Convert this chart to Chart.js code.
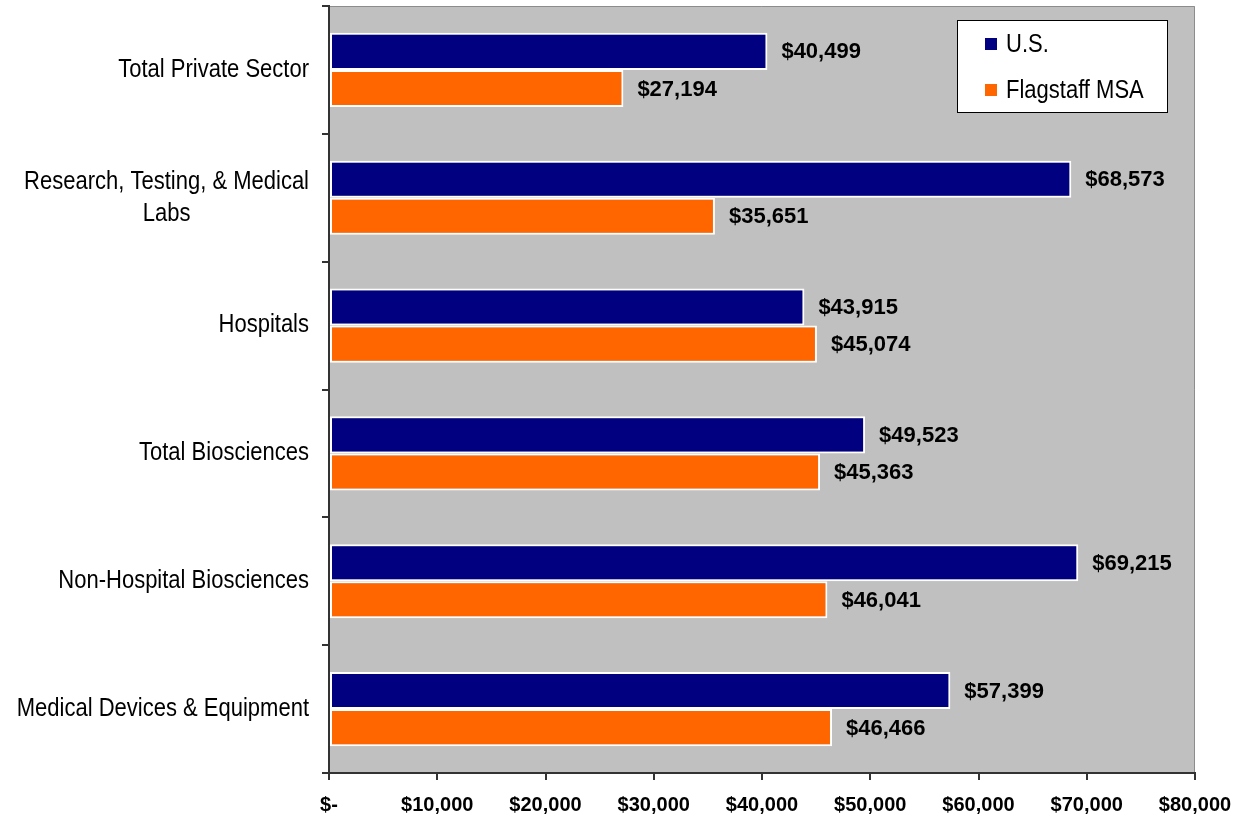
<!DOCTYPE html>
<html>
<head>
<meta charset="utf-8">
<script src="https://cdn.jsdelivr.net/npm/chart.js@4/dist/chart.umd.min.js"></script>
<style>
html,body{margin:0;padding:0;background:#fff;}
#wrap{width:1241px;height:816px;position:relative;}
</style>
</head>
<body>
<div id="wrap"><canvas id="c" width="1241" height="816"></canvas></div>
<script>
const categories = [
  "Total Private Sector",
  ["Research, Testing, & Medical", "Labs"],
  "Hospitals",
  "Total Biosciences",
  "Non-Hospital Biosciences",
  "Medical Devices & Equipment"
];
const seriesNames = ["U.S.", "Flagstaff MSA"];
const usValues = [40499, 68573, 43915, 49523, 69215, 57399];
const flagstaffValues = [27194, 35651, 45074, 45363, 46041, 46466];
const xTicks = [0, 10000, 20000, 30000, 40000, 50000, 60000, 70000, 80000];

const FONT = "'Liberation Sans', Arial, sans-serif";
const SQUEEZE = 0.88;
function money(v){ return v === 0 ? "$-" : "$" + v.toLocaleString("en-US"); }

// draw horizontally condensed text
function narrowText(ctx, text, x, y, align){
  ctx.save();
  ctx.translate(x, y);
  ctx.scale(SQUEEZE, 1);
  ctx.textAlign = align;
  ctx.fillText(text, 0, 0);
  ctx.restore();
}

const plotBg = {
  id: "plotBg",
  beforeDraw(chart){
    const {ctx, chartArea:a} = chart;
    ctx.save();
    ctx.fillStyle = "#C0C0C0";
    ctx.fillRect(a.left, a.top, a.right - a.left, a.bottom - a.top);
    ctx.strokeStyle = "#8c8c8c";
    ctx.lineWidth = 1;
    ctx.beginPath();
    ctx.moveTo(a.left, a.top + 0.5);
    ctx.lineTo(a.right - 0.5, a.top + 0.5);
    ctx.lineTo(a.right - 0.5, a.bottom);
    ctx.stroke();
    ctx.restore();
  }
};

const catLabels = {
  id: "catLabels",
  afterDraw(chart){
    const {ctx} = chart;
    const y = chart.scales.y;
    ctx.save();
    ctx.font = "25px " + FONT;
    ctx.fillStyle = "#000";
    ctx.textBaseline = "middle";
    const lineH = 32;
    chart.data.labels.forEach((lab, i) => {
      const lines = Array.isArray(lab) ? lab : [lab];
      const w = Math.max(...lines.map(l => ctx.measureText(l).width)) * SQUEEZE;
      const cx = y.right - 20 - w / 2;
      const cy = y.getPixelForTick(i);
      const start = cy - (lines.length - 1) * lineH / 2;
      lines.forEach((l, k) => narrowText(ctx, l, cx, start + k * lineH, "center"));
    });
    ctx.restore();
  }
};

const dataLabels = {
  id: "dataLabels",
  afterDatasetsDraw(chart){
    const {ctx} = chart;
    ctx.save();
    ctx.font = "bold 22px " + FONT;
    ctx.fillStyle = "#000";
    ctx.textBaseline = "middle";
    ctx.textAlign = "left";
    chart.data.datasets.forEach((ds, di) => {
      chart.getDatasetMeta(di).data.forEach((bar, i) => {
        ctx.fillText(money(ds.data[i]), bar.x + 14, bar.y + 1);
      });
    });
    ctx.restore();
  }
};

const boxLegend = {
  id: "boxLegend",
  afterDraw(chart){
    const {ctx, chartArea:a} = chart;
    const bx = a.right - 238, by = a.top + 14, bw = 211, bh = 93;
    ctx.save();
    ctx.fillStyle = "#fff";
    ctx.fillRect(bx, by, bw, bh);
    ctx.strokeStyle = "#000";
    ctx.lineWidth = 1;
    ctx.strokeRect(bx + 0.5, by + 0.5, bw - 1, bh - 1);
    ctx.font = "25px " + FONT;
    ctx.textBaseline = "middle";
    chart.data.datasets.forEach((ds, i) => {
      const cy = by + 24 + i * 46;
      ctx.fillStyle = ds.backgroundColor;
      ctx.fillRect(bx + 28, cy - 6, 12, 12);
      ctx.fillStyle = "#000";
      narrowText(ctx, ds.label, bx + 49, cy + 1, "left");
    });
    ctx.restore();
  }
};

new Chart(document.getElementById("c"), {
  type: "bar",
  data: {
    labels: categories,
    datasets: [
      { label: seriesNames[0], data: usValues, backgroundColor: "#000080" },
      { label: seriesNames[1], data: flagstaffValues, backgroundColor: "#FF6600" }
    ]
  },
  options: {
    indexAxis: "y",
    responsive: false,
    animation: false,
    devicePixelRatio: 1,
    layout: { padding: { left: 0, right: 46, top: 6, bottom: 0 } },
    datasets: {
      bar: {
        borderColor: "#ffffff",
        borderWidth: 2,
        borderSkipped: false,
        categoryPercentage: 0.58,
        barPercentage: 1.0
      }
    },
    plugins: {
      legend: { display: false },
      tooltip: { enabled: false },
      title: { display: false }
    },
    scales: {
      x: {
        min: 0,
        max: 80000,
        afterBuildTicks(scale){ scale.ticks = xTicks.map(v => ({ value: v })); },
        afterFit(scale){ scale.height = 43; scale.paddingLeft = 0; scale.paddingRight = 0; },
        grid: { drawOnChartArea: false, drawTicks: true, tickLength: 7, color: "#333", lineWidth: 2 },
        border: { display: true, color: "#333", width: 2 },
        ticks: {
          color: "#000",
          font: { family: FONT, size: 20, weight: "bold" },
          padding: 13,
          maxRotation: 0,
          autoSkip: false,
          callback: (v) => money(v)
        }
      },
      y: {
        afterFit(scale){ scale.width = 329; },
        grid: { drawOnChartArea: false, drawTicks: true, tickLength: 7, color: "#333", lineWidth: 2, offset: true },
        border: { display: true, color: "#333", width: 2 },
        ticks: { display: false }
      }
    }
  },
  plugins: [plotBg, catLabels, dataLabels, boxLegend]
});
</script>
</body>
</html>
